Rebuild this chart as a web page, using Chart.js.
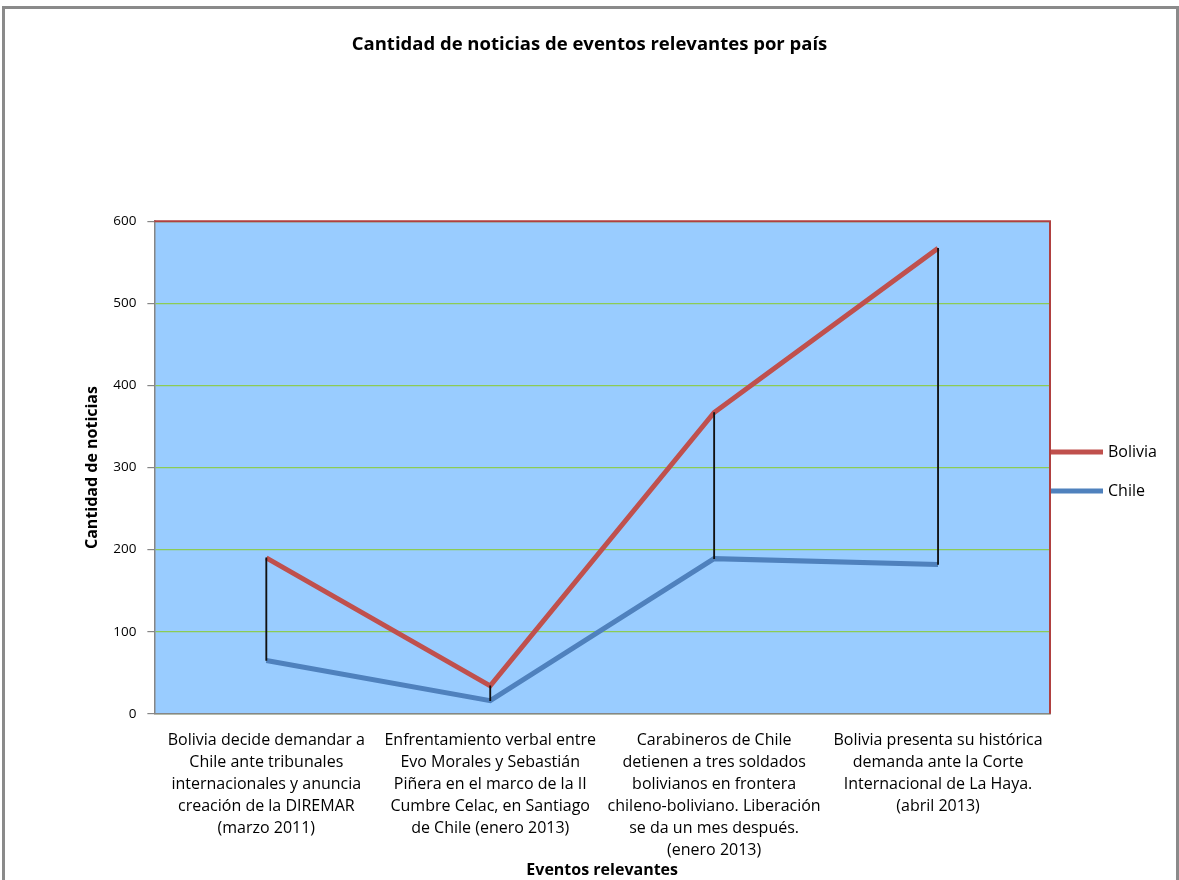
<!DOCTYPE html>
<html>
<head>
<meta charset="utf-8">
<script src="https://cdn.jsdelivr.net/npm/chart.js@4.4.0/dist/chart.umd.min.js"></script>
<style>
  html, body { margin: 0; padding: 0; background: #fff; }
  #wrap { position: relative; width: 1179px; height: 880px; overflow: hidden; }
  #frame { position: absolute; left: 2px; top: 6px; width: 1171px; height: 900px; border: 3px solid #8a8a8a; pointer-events: none; }
  canvas { position: absolute; left: 0; top: 0; }
</style>
</head>
<body>
<div id="wrap">
  <canvas id="chart" width="1179" height="880"></canvas>
  <div id="frame"></div>
</div>
<script>
// data
const eventos = [
  ['Bolivia decide demandar a', 'Chile ante tribunales', 'internacionales y anuncia', 'creación de la DIREMAR', '(marzo 2011)'],
  ['Enfrentamiento verbal entre', 'Evo Morales y Sebastián', 'Piñera en el marco de la II', 'Cumbre Celac, en Santiago', 'de Chile (enero 2013)'],
  ['Carabineros de Chile', 'detienen a tres soldados', 'bolivianos en frontera', 'chileno-boliviano. Liberación', 'se da un mes después.', '(enero 2013)'],
  ['Bolivia presenta su histórica', 'demanda ante la Corte', 'Internacional de La Haya.', '(abril 2013)']
];
const bolivia = [190, 34, 367, 567];
const chile = [65, 16, 189, 182];
const yTicks = [0, 100, 200, 300, 400, 500, 600];

const FONT = '"Open Sans"';
Chart.defaults.font.family = FONT;
Chart.defaults.color = '#000';

// plot area fill, red frame and the legend at the right
const plotDecor = {
  id: 'plotDecor',
  beforeDraw(chart) {
    const { ctx, chartArea: a } = chart;
    ctx.save();
    ctx.fillStyle = '#99CCFF';
    ctx.fillRect(a.left, a.top, a.right - a.left, a.bottom - a.top);
    ctx.restore();
  },
  afterDraw(chart) {
    const { ctx, chartArea: a } = chart;
    ctx.save();
    ctx.strokeStyle = '#B04040';
    ctx.lineWidth = 2;
    ctx.beginPath();
    ctx.moveTo(a.left, a.top);
    ctx.lineTo(a.right, a.top);
    ctx.lineTo(a.right, a.bottom);
    ctx.stroke();

    // legend
    const lines = chart.data.datasets.filter(d => d.type === 'line');
    const mid = (a.top + a.bottom) / 2 + 4;
    ctx.font = '16px ' + FONT;
    ctx.textBaseline = 'middle';
    ctx.fillStyle = '#000';
    lines.forEach((d, i) => {
      const y = mid + (i - (lines.length - 1) / 2) * 39;
      ctx.strokeStyle = d.borderColor;
      ctx.lineWidth = 5;
      ctx.beginPath();
      ctx.moveTo(a.right + 1, y);
      ctx.lineTo(a.right + 53, y);
      ctx.stroke();
      ctx.fillText(d.label, a.right + 58, y);
    });
    ctx.restore();
  }
};

new Chart(document.getElementById('chart'), {
  type: 'line',
  data: {
    labels: eventos,
    datasets: [
      {
        type: 'bar',
        label: 'rango',
        data: chile.map((v, i) => [v, bolivia[i]]),
        backgroundColor: '#111',
        barThickness: 1.2,
        order: 0
      },
      {
        type: 'line',
        label: 'Bolivia',
        data: bolivia,
        borderColor: '#C0504D',
        backgroundColor: '#C0504D',
        borderWidth: 5,
        pointRadius: 0,
        tension: 0,
        order: 1
      },
      {
        type: 'line',
        label: 'Chile',
        data: chile,
        borderColor: '#4F81BD',
        backgroundColor: '#4F81BD',
        borderWidth: 5,
        pointRadius: 0,
        tension: 0,
        order: 2
      }
    ]
  },
  options: {
    responsive: false,
    animation: false,
    layout: { padding: 0 },
    plugins: {
      legend: { display: false },
      tooltip: { enabled: false },
      title: {
        display: true,
        text: 'Cantidad de noticias de eventos relevantes por país',
        font: { size: 18.5, weight: 'bold' },
        color: '#000',
        padding: { top: 34, bottom: 165 }
      }
    },
    scales: {
      x: {
        type: 'category',
        offset: true,
        grid: { display: false, drawTicks: false },
        border: { display: true, color: '#868686', width: 1.5 },
        ticks: {
          maxRotation: 0,
          minRotation: 0,
          autoSkip: false,
          padding: 16,
          font: { size: 16, lineHeight: '22px' },
          color: '#000'
        },
        title: {
          display: true,
          text: 'Eventos relevantes',
          font: { size: 16, weight: 'bold' },
          color: '#000',
          padding: { top: -17, bottom: 0 }
        }
      },
      y: {
        min: 0,
        max: 600,
        afterBuildTicks: scale => { scale.ticks = yTicks.map(v => ({ value: v })); },
        grid: {
          color: '#8CCB55',
          lineWidth: 1.2,
          tickColor: '#868686',
          tickLength: 7,
          drawTicks: true
        },
        border: { display: true, color: '#868686', width: 1.5 },
        ticks: { padding: 11, font: { size: 13.5 }, color: '#000' },
        title: {
          display: true,
          text: 'Cantidad de noticias',
          font: { size: 16, weight: 'bold' },
          color: '#000',
          padding: { top: 83, bottom: 0 }
        }
      },
      // empty right-hand space that holds the legend
      legendSpace: {
        type: 'linear',
        position: 'right',
        display: true,
        grid: { display: false, drawTicks: false },
        border: { display: false },
        ticks: { display: false },
        afterFit: scale => { scale.width = 129; }
      }
    }
  },
  plugins: [plotDecor]
});
</script>
</body>
</html>
